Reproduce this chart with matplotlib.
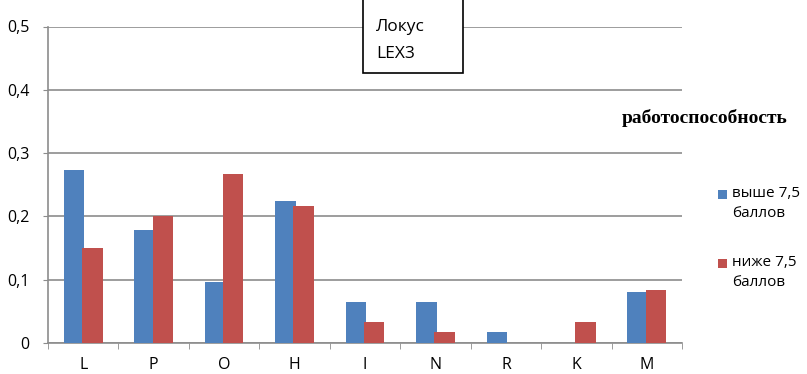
import numpy as np
import matplotlib.pyplot as plt
from matplotlib.patches import Rectangle

plt.rcParams['font.family'] = ['Open Sans', 'DejaVu Sans']

loci = ['L', 'P', 'O', 'H', 'I', 'N', 'R', 'K', 'M']
above = [0.273, 0.178, 0.097, 0.225, 0.065, 0.065, 0.017, 0.0, 0.081]
below = [0.150, 0.200, 0.267, 0.217, 0.033, 0.017, 0.0, 0.033, 0.083]
series_names = ['выше 7,5\nбаллов', 'ниже 7,5\nбаллов']
yticks = [0, 0.1, 0.2, 0.3, 0.4, 0.5]
ylabels = ['0', '0,1', '0,2', '0,3', '0,4', '0,5']

blue = '#4F81BD'
red = '#C0504D'

fig = plt.figure(figsize=(8.07, 3.74), dpi=100)
ax = fig.add_axes([48 / 807, 31 / 374, 634 / 807, 316.5 / 374])

x = np.arange(len(loci))
w = 0.29
ax.bar(x - 0.13, above, width=w, color=blue, zorder=3)
ax.bar(x + 0.13, below, width=w, color=red, zorder=3)

ax.set_xlim(-0.5, len(loci) - 0.5)
ax.set_ylim(0, 0.5)
ax.set_yticks(yticks)
ax.set_yticklabels(ylabels, fontsize=11.5)
ax.yaxis.grid(True, color='#8c8c8c', linewidth=1.2, zorder=0)
ax.set_axisbelow(True)

ax.set_xticks(x)
ax.set_xticklabels(loci, fontsize=11.5)
ax.tick_params(axis='x', length=0, pad=10)
ax.set_xticks(np.arange(-0.5, len(loci)), minor=True)
ax.tick_params(axis='x', which='minor', length=4.5, color='#8c8c8c', direction='out')
ax.tick_params(axis='y', length=3.6, color='#8c8c8c', pad=9.5)

for s in ['top', 'right']:
    ax.spines[s].set_visible(False)
ax.spines['left'].set_color('#8c8c8c')
ax.spines['bottom'].set_color('#8c8c8c')
ax.spines['left'].set_linewidth(1.2)
ax.spines['bottom'].set_linewidth(1.2)

# title box at top of plot area
fig.patches.append(Rectangle((363 / 807, (374 - 73) / 374), 100 / 807, 80 / 374,
                             transform=fig.transFigure, facecolor='white',
                             edgecolor='black', linewidth=1.2, zorder=5))
fig.text(376 / 807, (374 - 27) / 374, 'Локус', fontsize=12.5, va='center', zorder=6)
fig.text(376 / 807, (374 - 54) / 374, 'LEX3', fontsize=12.5, va='center', zorder=6)

fig.text(622 / 807, (374 - 118) / 374, 'работоспособность', fontsize=14,
         fontweight='bold', family='Liberation Serif', va='center')

# legend: square aligned with the first line of each label
for i, (name, col) in enumerate(zip(series_names, [blue, red])):
    y0 = 194 + i * 69
    fig.patches.append(Rectangle((718 / 807, (374 - y0 - 4.5) / 374), 9 / 807, 9 / 374,
                                 transform=fig.transFigure, facecolor=col,
                                 edgecolor='none'))
    fig.text(732 / 807, (374 - y0 + 8) / 374, name, fontsize=11, va='top',
             linespacing=1.45)

fig.savefig('out.png', dpi=100)
